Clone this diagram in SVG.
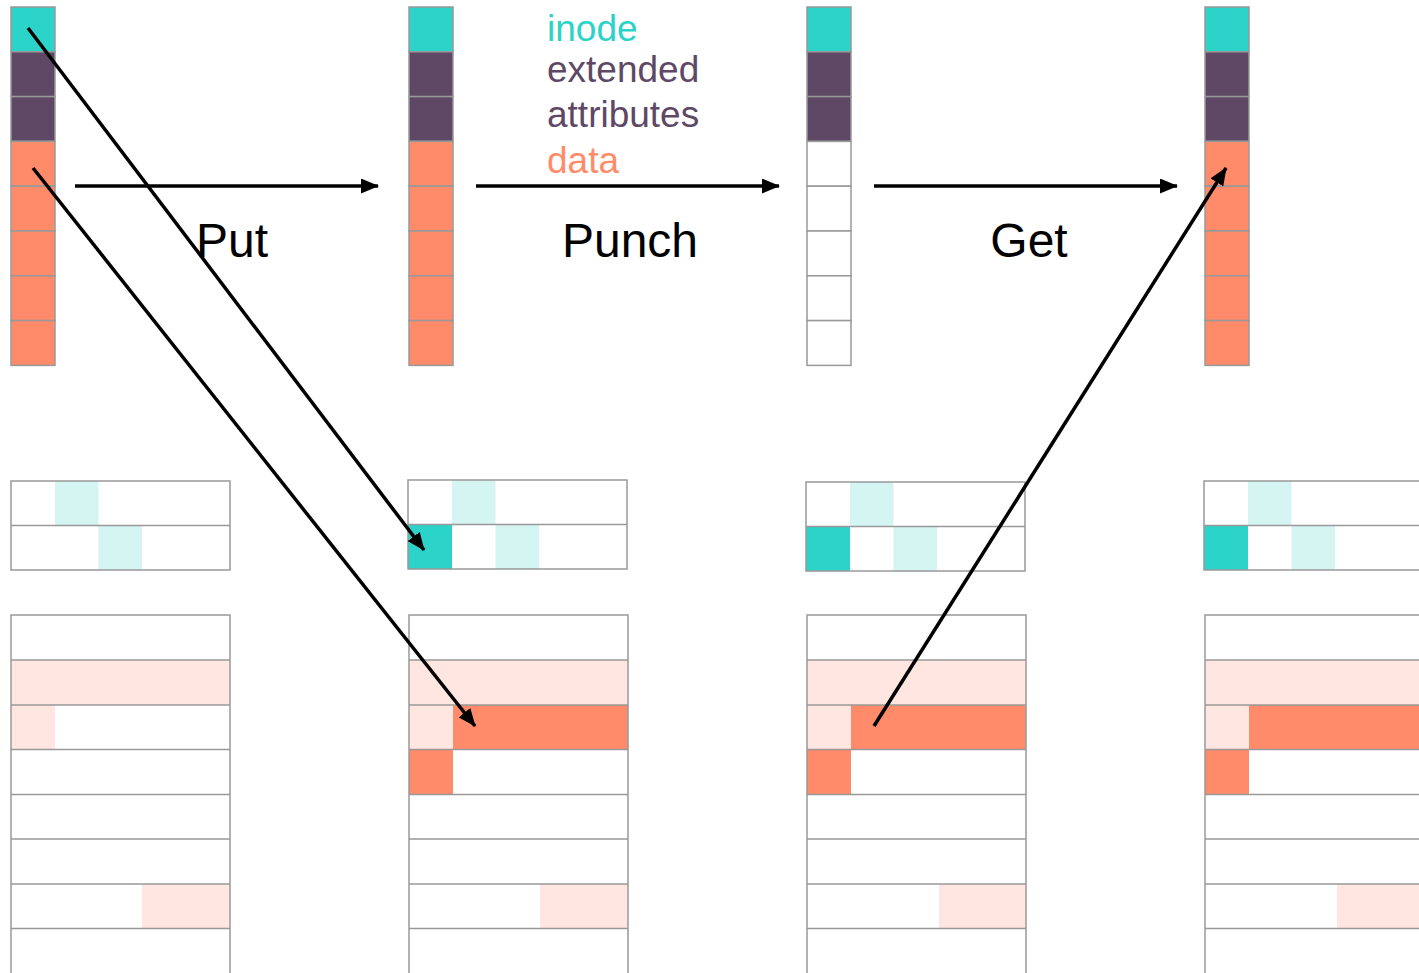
<svg xmlns="http://www.w3.org/2000/svg" width="1419" height="973" viewBox="0 0 1419 973">
<style>
.c{stroke:#999;stroke-width:1.5}
.t{fill:#2BD3C8}.p{fill:#5E4866}.s{fill:#FF8B6A}.w{fill:#fff}.lt{fill:#D5F5F3}.ls{fill:#FFE6E0}
.g{fill:none;stroke:#999;stroke-width:1.5}
.a{stroke:#000;stroke-width:3.5;fill:none;marker-end:url(#ah)}
.lbl{font-family:"Liberation Sans",Arial,sans-serif;font-size:48px;fill:#000;text-anchor:middle}
.lg{font-family:"Liberation Sans",Arial,sans-serif;font-size:37px}
</style>
<defs>
<marker id="ah" markerUnits="userSpaceOnUse" markerWidth="18" markerHeight="15" refX="17" refY="7.5" orient="auto">
<path d="M0,0 L18,7.5 L0,15 z" fill="#000"/>
</marker>
</defs>
<rect width="1419" height="973" fill="#fff"/>

<!-- top columns -->
<g id="col1">
<rect class="c t" x="11" y="7" width="44" height="44.8"/>
<rect class="c p" x="11" y="51.8" width="44" height="44.8"/>
<rect class="c p" x="11" y="96.6" width="44" height="44.8"/>
<rect class="c s" x="11" y="141.4" width="44" height="44.8"/>
<rect class="c s" x="11" y="186.2" width="44" height="44.8"/>
<rect class="c s" x="11" y="231" width="44" height="44.8"/>
<rect class="c s" x="11" y="275.8" width="44" height="44.8"/>
<rect class="c s" x="11" y="320.6" width="44" height="44.8"/>
</g>
<g id="col2">
<rect class="c t" x="409" y="7" width="44" height="44.8"/>
<rect class="c p" x="409" y="51.8" width="44" height="44.8"/>
<rect class="c p" x="409" y="96.6" width="44" height="44.8"/>
<rect class="c s" x="409" y="141.4" width="44" height="44.8"/>
<rect class="c s" x="409" y="186.2" width="44" height="44.8"/>
<rect class="c s" x="409" y="231" width="44" height="44.8"/>
<rect class="c s" x="409" y="275.8" width="44" height="44.8"/>
<rect class="c s" x="409" y="320.6" width="44" height="44.8"/>
</g>
<g id="col3">
<rect class="c t" x="807" y="7" width="44" height="44.8"/>
<rect class="c p" x="807" y="51.8" width="44" height="44.8"/>
<rect class="c p" x="807" y="96.6" width="44" height="44.8"/>
<rect class="c w" x="807" y="141.4" width="44" height="44.8"/>
<rect class="c w" x="807" y="186.2" width="44" height="44.8"/>
<rect class="c w" x="807" y="231" width="44" height="44.8"/>
<rect class="c w" x="807" y="275.8" width="44" height="44.8"/>
<rect class="c w" x="807" y="320.6" width="44" height="44.8"/>
</g>
<g id="col4">
<rect class="c t" x="1205" y="7" width="44" height="44.8"/>
<rect class="c p" x="1205" y="51.8" width="44" height="44.8"/>
<rect class="c p" x="1205" y="96.6" width="44" height="44.8"/>
<rect class="c s" x="1205" y="141.4" width="44" height="44.8"/>
<rect class="c s" x="1205" y="186.2" width="44" height="44.8"/>
<rect class="c s" x="1205" y="231" width="44" height="44.8"/>
<rect class="c s" x="1205" y="275.8" width="44" height="44.8"/>
<rect class="c s" x="1205" y="320.6" width="44" height="44.8"/>
</g>

<!-- legend -->
<g id="legend" class="lg">
<text x="547" y="41" fill="#2BD3C8">inode</text>
<text x="547" y="82" fill="#5E4866">extended</text>
<text x="547" y="127" fill="#5E4866">attributes</text>
<text x="547" y="173" fill="#FF8B6A">data</text>
</g>

<!-- small inode grids -->
<g id="inodes1">
<rect class="lt" x="55" y="481" width="43.5" height="44.5"/>
<rect class="lt" x="98.5" y="525.5" width="43.5" height="44.5"/>
<rect class="g" x="11" y="481" width="219" height="89"/>
<line class="g" x1="11" y1="525.5" x2="230" y2="525.5"/>
</g>
<g id="inodes2">
<rect class="lt" x="452" y="480" width="43.5" height="44.5"/>
<rect class="t" x="408" y="524.5" width="44" height="44.5"/>
<rect class="lt" x="495.5" y="524.5" width="43.5" height="44.5"/>
<rect class="g" x="408" y="480" width="219" height="89"/>
<line class="g" x1="408" y1="524.5" x2="627" y2="524.5"/>
</g>
<g id="inodes3">
<rect class="lt" x="850" y="482" width="43.5" height="44.5"/>
<rect class="t" x="806" y="526.5" width="44" height="44.5"/>
<rect class="lt" x="893.5" y="526.5" width="43.5" height="44.5"/>
<rect class="g" x="806" y="482" width="219" height="89"/>
<line class="g" x1="806" y1="526.5" x2="1025" y2="526.5"/>
</g>
<g id="inodes4">
<rect class="lt" x="1248" y="481" width="43.5" height="44.5"/>
<rect class="t" x="1204" y="525.5" width="44" height="44.5"/>
<rect class="lt" x="1291.5" y="525.5" width="43.5" height="44.5"/>
<rect class="g" x="1204" y="481" width="230" height="89"/>
<line class="g" x1="1204" y1="525.5" x2="1434" y2="525.5"/>
</g>

<!-- big data grids -->
<g id="data1">
<rect class="ls" x="11" y="660" width="219" height="45"/>
<rect class="ls" x="11" y="705" width="44" height="44.5"/>
<rect class="ls" x="142" y="884" width="88" height="44.5"/>
<rect class="g" x="11" y="615" width="219" height="370"/>
<path class="g" d="M11,660H230M11,705H230M11,749.5H230M11,794.5H230M11,839H230M11,884H230M11,928.5H230"/>
</g>
<g id="data2">
<rect class="ls" x="409" y="660" width="219" height="45"/>
<rect class="ls" x="409" y="705" width="44" height="44.5"/>
<rect class="s" x="453" y="705" width="175" height="44.5"/>
<rect class="s" x="409" y="749.5" width="44" height="45"/>
<rect class="ls" x="540" y="884" width="88" height="44.5"/>
<rect class="g" x="409" y="615" width="219" height="370"/>
<path class="g" d="M409,660H628M409,705H628M409,749.5H628M409,794.5H628M409,839H628M409,884H628M409,928.5H628"/>
</g>
<g id="data3">
<rect class="ls" x="807" y="660" width="219" height="45"/>
<rect class="ls" x="807" y="705" width="44" height="44.5"/>
<rect class="s" x="851" y="705" width="175" height="44.5"/>
<rect class="s" x="807" y="749.5" width="44" height="45"/>
<rect class="ls" x="939" y="884" width="87" height="44.5"/>
<rect class="g" x="807" y="615" width="219" height="370"/>
<path class="g" d="M807,660H1026M807,705H1026M807,749.5H1026M807,794.5H1026M807,839H1026M807,884H1026M807,928.5H1026"/>
</g>
<g id="data4">
<rect class="ls" x="1205" y="660" width="230" height="45"/>
<rect class="ls" x="1205" y="705" width="44" height="44.5"/>
<rect class="s" x="1249" y="705" width="186" height="44.5"/>
<rect class="s" x="1205" y="749.5" width="44" height="45"/>
<rect class="ls" x="1337" y="884" width="98" height="44.5"/>
<rect class="g" x="1205" y="615" width="230" height="370"/>
<path class="g" d="M1205,660H1435M1205,705H1435M1205,749.5H1435M1205,794.5H1435M1205,839H1435M1205,884H1435M1205,928.5H1435"/>
</g>

<!-- labels -->
<g id="labels">
<text class="lbl" x="232" y="257">Put</text>
<text class="lbl" x="630" y="257">Punch</text>
<text class="lbl" x="1029" y="257">Get</text>
</g>

<!-- connectors -->
<g id="connectors">
<line class="a" x1="75" y1="186" x2="378" y2="186"/>
<line class="a" x1="476" y1="186" x2="779" y2="186"/>
<line class="a" x1="874" y1="186" x2="1177" y2="186"/>
<line class="a" x1="28" y1="28" x2="424" y2="550"/>
<line class="a" x1="33" y1="168" x2="475" y2="726"/>
<line class="a" x1="874" y1="726" x2="1226" y2="168"/>
</g>
</svg>
